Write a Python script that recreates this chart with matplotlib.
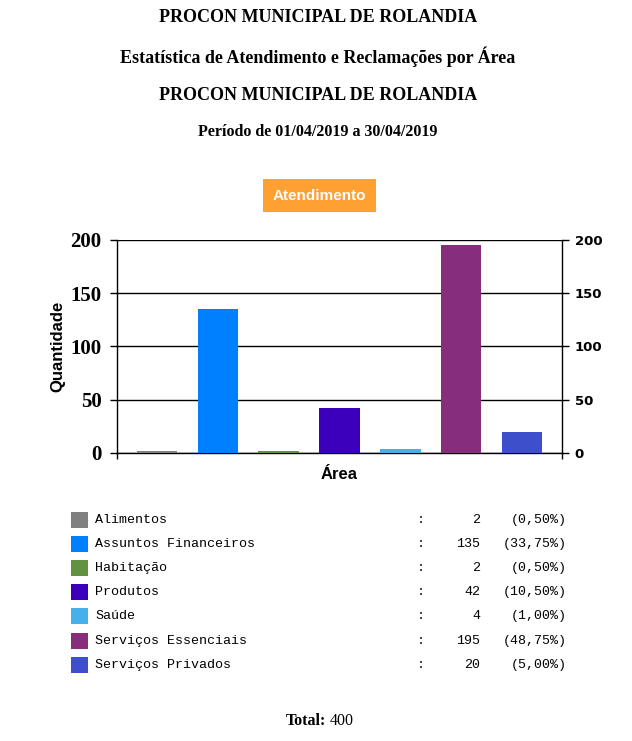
import matplotlib.pyplot as plt
from matplotlib.patches import Rectangle

areas = ["Alimentos", "Assuntos Financeiros", "Habitação", "Produtos", "Saúde",
         "Serviços Essenciais", "Serviços Privados"]
quantidades = [2, 135, 2, 42, 4, 195, 20]
percentuais = ["0,50%", "33,75%", "0,50%", "10,50%", "1,00%", "48,75%", "5,00%"]
cores = ["#808080", "#0080FF", "#629141", "#3C00BC", "#45B0EA", "#862D7E", "#3D4FCB"]
yticks = [0, 50, 100, 150, 200]
total = 400

titulos = ["PROCON MUNICIPAL DE ROLANDIA",
           "Estatística de Atendimento e Reclamações por Área",
           "PROCON MUNICIPAL DE ROLANDIA"]
periodo = "Período de 01/04/2019 a 30/04/2019"

W, H = 632, 741
fig = plt.figure(figsize=(W / 100, H / 100), dpi=100)


def fx(px):
    return px / W


def fy(py):
    return 1 - py / H


serif = "Liberation Serif"
sans = "Liberation Sans"
mono = "Liberation Mono"

# titles
for texto, y in zip(titulos, [17, 57, 96]):
    fig.text(fx(318), fy(y), texto, ha="center", va="center",
             fontsize=13, fontweight="bold", family=serif)
fig.text(fx(318), fy(132), periodo, ha="center", va="center",
         fontsize=11.5, fontweight="bold", family=serif)

# orange badge
fig.patches.append(Rectangle((fx(263), fy(212)), fx(376) - fx(263), fy(179) - fy(212),
                             transform=fig.transFigure, facecolor="#FFA033",
                             edgecolor="none"))
fig.text(fx(319.5), fy(195.5), "Atendimento", ha="center", va="center",
         fontsize=11, fontweight="bold", family=sans, color="white")

# bar chart
ax = fig.add_axes([fx(117), fy(453), fx(562) - fx(117), fy(240) - fy(453)])
x = list(range(len(areas)))
ax.bar(x, quantidades, width=0.67, color=cores, zorder=3)
ax.set_xlim(-0.66, len(areas) - 1 + 0.66)
ax.set_ylim(0, 200)
ax.set_yticks(yticks)
ax.yaxis.grid(True, color="black", linewidth=1)
ax.set_axisbelow(True)
for s in ax.spines.values():
    s.set_linewidth(1)
    s.set_color("black")
ax.spines["top"].set_visible(False)
ax.set_xticks([-0.66, len(areas) - 1 + 0.66])
ax.set_xticklabels([])
ax.tick_params(axis="x", direction="out", length=4, width=1)
ax.tick_params(axis="y", direction="out", length=5, width=1, pad=6)
for lbl in ax.get_yticklabels():
    lbl.set_fontfamily(serif)
    lbl.set_fontweight("bold")
    lbl.set_fontsize(15)

ax2 = ax.twinx()
ax2.set_ylim(0, 200)
ax2.set_yticks(yticks)
ax2.tick_params(axis="y", direction="out", length=5, width=1, pad=4)
for s in ax2.spines.values():
    s.set_visible(False)
for lbl in ax2.get_yticklabels():
    lbl.set_fontfamily("DejaVu Sans")
    lbl.set_fontweight("bold")
    lbl.set_fontsize(9.5)

fig.text(fx(58), fy(346), "Quantidade", rotation=90, ha="center", va="center",
         fontsize=12, fontweight="bold", family=sans)
fig.text(fx(339), fy(474), "Área", ha="center", va="center",
         fontsize=12, fontweight="bold", family=sans)

# legend table
linhas = [520, 544, 568, 592, 616, 641, 665]
for nome, q, p, c, y in zip(areas, quantidades, percentuais, cores, linhas):
    fig.patches.append(Rectangle((fx(71), fy(y + 8)), fx(88) - fx(71), fy(y - 8) - fy(y + 8),
                                 transform=fig.transFigure, facecolor=c, edgecolor="none"))
    fig.text(fx(95), fy(y), nome, ha="left", va="center", fontsize=9.6, family=mono)
    fig.text(fx(421), fy(y), ":", ha="center", va="center", fontsize=9.6, family=mono)
    fig.text(fx(480), fy(y), str(q), ha="right", va="center", fontsize=9.6, family=mono)
    fig.text(fx(567), fy(y), "(" + p + ")", ha="right", va="center", fontsize=9.6, family=mono)

# total
fig.text(fx(326), fy(721), "Total:", ha="right", va="center",
         fontsize=11.5, fontweight="bold", family=serif)
fig.text(fx(330), fy(721), str(total), ha="left", va="center",
         fontsize=11.5, family=serif)

fig.savefig("out.png", dpi=100)
